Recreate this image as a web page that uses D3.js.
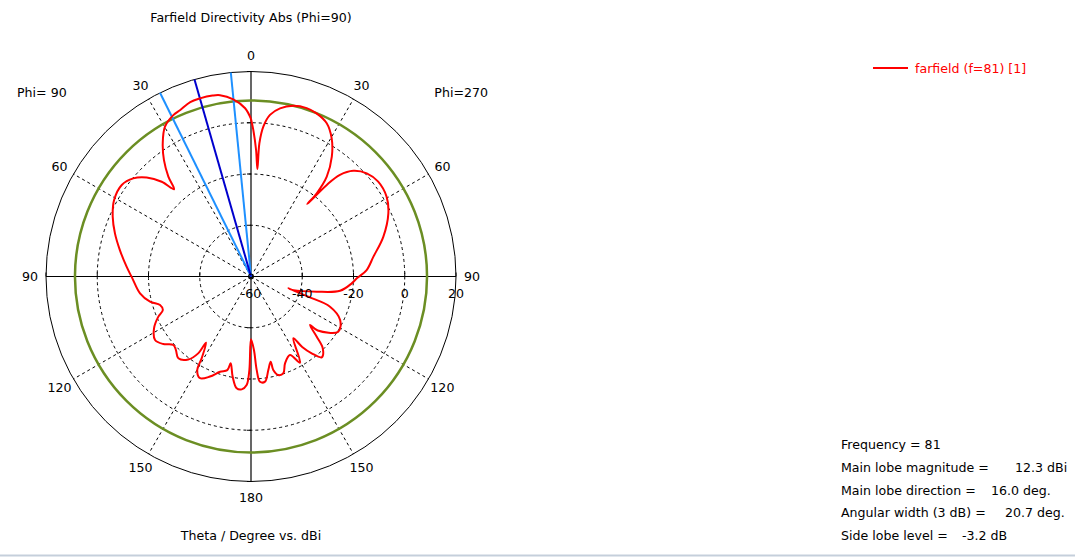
<!DOCTYPE html>
<html lang="en">
<head>
<meta charset="UTF-8">
<title>Farfield Directivity Abs</title>
<style>
    body { margin: 0; background: #fff; }
    svg text { font-family: "DejaVu Sans", Verdana, sans-serif; font-size: 12.6px; fill: #000; }
</style>
</head>
<body>
<div id="wrapper"></div>
<script src="https://d3js.org/d3.v7.min.js"></script>
<script>
    // theta in degrees, counted from the top towards the left (0..180 = Phi 90 side, 180..360 = Phi 270 side)
    const theta = [0, 2.0, 5.7, 9.7, 12, 16, 19.2, 23, 25.7, 29.9, 33.5, 36.8, 39.6, 41.4, 43.3, 46.5, 50.2, 54.7, 60.8, 66.6,
        72.4, 78.6, 85.5, 90.9, 98.6, 104, 107.4, 110.8, 113.4, 118.1, 123.5, 127.6, 131.4, 134.4, 138.4, 142.9, 145.5, 145.8,
        148.9, 150.1, 153.4, 157.7, 162, 165.8, 166.8, 169.6, 172.7, 175.3, 177.7, 179, 180, 182.3, 183.5, 184.9, 187.6, 190.5,
        193, 193.4, 195.5, 198.5, 201.4, 206.4, 209.6, 214.4, 216, 218.3, 221.2, 225, 227.5, 230.6, 231, 237.7, 244, 249.1,
        250.6, 252.4, 252.2, 257, 260.9, 266.1, 269, 273.2, 279.2, 286.7, 294.7, 300.5, 306.7, 311.7, 315.9, 318.8, 320.4,
        322.2, 321.7, 322.8, 326, 329.7, 333.7, 338.1, 341.7, 346.1, 350.2, 353.3, 355.3, 356.4, 356.6, 357.7, 359.1, 360];
    const dBi = [1.5, 5.7, 9.5, 11.8, 12.2, 12.3, 12.1, 10.6, 9.9, 7.4, 2.4, -3.3, -9.4, -14.6, -9.2, -3.9, -0.2, 1.8, 1.2, -1.2,
        -4.3, -7.8, -11.3, -13.7, -16.2, -19.4, -22.8, -23.2, -20.6, -17.1, -15.1, -16.8, -19.6, -19.0, -17.3, -19.4, -23.6, -28.8,
        -22.7, -17.9, -15.6, -17.8, -20.9, -22.3, -25.2, -20.3, -16.0, -15.8, -17.6, -23.5, -35.5, -31.3, -23.4, -18.8, -18.6, -22.9,
        -25.9, -22.5, -20.1, -20.2, -23.6, -25.8, -21.3, -30.8, -26.0, -21.8, -18.1, -20.4, -25.2, -30.2, -26.5, -19.7, -21.3, -27,
        -36.3, -44.7, -42.6, -33.7, -24.8, -20.6, -18.7, -14.8, -11.6, -6.1, -1.0, 1.4, 1.9, 0.5, -2.6, -7.3, -13.6,
        -24.2, -18.6, -11.1, -3.6, 2.4, 6.7, 8.6, 9.2, 8.6, 6.6, 3.5, -1.3, -7.9, -18.0, -10.6, -2.8, 1.5];

    const rTicks = [-60, -40, -20, 0, 20];
    const angleTicks = [0, 30, 60, 90, 120, 150, 180, 210, 240, 270, 300, 330];

    const mainLobeDir = 16.0, angularWidth = 20.7;
    const ringLevel = 8.7; // green 3 dB ring
    const infoNames = ['Frequency = 81', 'Main lobe magnitude =', 'Main lobe direction =', 'Angular width (3 dB) =', 'Side lobe level ='];
    const infoValues = ['', '12.3 dBi', '16.0 deg.', '20.7 deg.', '-3.2 dB'];
    const infoValueX = [0, 1015, 991, 1005, 962];

    const width = 1075, height = 558;
    const cx = 251, cy = 276.5, R = 205;

    const svg = d3.select('#wrapper').append('svg')
        .attr('width', width).attr('height', height);

    const r = d3.scaleLinear().domain([-60, 20]).range([0, R]);
    const rad = d => d * Math.PI / 180;
    // position for angle a (deg, towards left) and radius px
    const px = (a, rr) => cx - rr * Math.sin(rad(a));
    const py = (a, rr) => cy - rr * Math.cos(rad(a));

    const g = svg.append('g');

    // dashed rings
    g.selectAll('.ring').data(rTicks.slice(1, -1)).enter()
        .append('circle')
        .attr('cx', cx).attr('cy', cy).attr('r', d => r(d))
        .attr('fill', 'none').attr('stroke', '#000').attr('stroke-width', 1)
        .attr('stroke-dasharray', '3,3');

    // dashed spokes
    g.selectAll('.spoke').data(angleTicks.filter(a => a % 90 !== 0)).enter()
        .append('line')
        .attr('x1', cx).attr('y1', cy)
        .attr('x2', a => px(a, R)).attr('y2', a => py(a, R))
        .attr('stroke', '#000').attr('stroke-width', 1).attr('stroke-dasharray', '3,3');

    // outer ring and axes
    g.append('circle').attr('cx', cx).attr('cy', cy).attr('r', R)
        .attr('fill', 'none').attr('stroke', '#000').attr('stroke-width', 1);
    g.append('line').attr('x1', cx - R).attr('x2', cx + R).attr('y1', cy).attr('y2', cy)
        .attr('stroke', '#000').attr('stroke-width', 1.2);
    g.append('line').attr('x1', cx).attr('x2', cx).attr('y1', cy - R).attr('y2', cy + R)
        .attr('stroke', '#000').attr('stroke-width', 1.2);

    // small ticks on the axes
    const tickR = rTicks.slice(1);
    [-1, 1].forEach(s => {
        g.selectAll(null).data(tickR).enter().append('line')
            .attr('x1', d => cx + s * r(d)).attr('x2', d => cx + s * r(d))
            .attr('y1', cy - 4).attr('y2', cy)
            .attr('stroke', '#000');
        g.selectAll(null).data(tickR).enter().append('line')
            .attr('x1', cx - 4).attr('x2', cx)
            .attr('y1', d => cy + s * r(d)).attr('y2', d => cy + s * r(d))
            .attr('stroke', '#000');
    });

    // 3 dB ring
    g.append('circle').attr('cx', cx).attr('cy', cy).attr('r', r(ringLevel))
        .attr('fill', 'none').attr('stroke', '#6b8e23').attr('stroke-width', 2.5);

    // main lobe direction and 3 dB width
    const beams = [
        { a: mainLobeDir - angularWidth / 2, c: '#1e90ff' },
        { a: mainLobeDir + angularWidth / 2, c: '#1e90ff' },
        { a: mainLobeDir, c: '#0000cd' }
    ];
    g.selectAll('.beam').data(beams).enter().append('line')
        .attr('x1', cx).attr('y1', cy)
        .attr('x2', d => px(d.a, R)).attr('y2', d => py(d.a, R))
        .attr('stroke', d => d.c).attr('stroke-width', 2);

    // farfield curve
    const pts = theta.map((t, i) => [t, dBi[i]]);
    const line = d3.lineRadial()
        .angle(d => -rad(d[0]))
        .radius(d => r(d[1]))
        .curve(d3.curveCatmullRom.alpha(0.5));
    g.append('path')
        .attr('transform', `translate(${cx},${cy})`)
        .attr('d', line(pts))
        .attr('fill', 'none').attr('stroke', '#ff0000').attr('stroke-width', 2)
        .attr('stroke-linejoin', 'round');

    // center marker
    g.append('circle').attr('cx', cx).attr('cy', cy).attr('r', 2.5)
        .attr('fill', 'none').attr('stroke', '#000');

    // radial tick labels
    g.selectAll('.rlab').data(rTicks).enter().append('text')
        .attr('x', d => cx + r(d)).attr('y', cy + 21)
        .attr('text-anchor', 'middle')
        .text(d => d);

    // angle labels
    const labR = 221;
    g.selectAll('.alab').data(angleTicks).enter().append('text')
        .attr('x', a => px(a, labR)).attr('y', a => py(a, labR))
        .attr('text-anchor', 'middle').attr('dominant-baseline', 'central')
        .text(a => a <= 180 ? a : 360 - a);

    svg.append('text').attr('x', 17).attr('y', 97).text('Phi= 90');
    svg.append('text').attr('x', 488).attr('y', 97).attr('text-anchor', 'end').text('Phi=270');

    svg.append('text').attr('x', cx).attr('y', 22).attr('text-anchor', 'middle')
        .text('Farfield Directivity Abs (Phi=90)');
    svg.append('text').attr('x', cx).attr('y', 540).attr('text-anchor', 'middle')
        .text('Theta / Degree vs. dBi');

    // legend
    svg.append('line').attr('x1', 873).attr('x2', 908).attr('y1', 68).attr('y2', 68)
        .attr('stroke', '#ff0000').attr('stroke-width', 2);
    svg.append('text').attr('x', 915).attr('y', 73).style('fill', '#ff0000')
        .text('farfield (f=81) [1]');

    // info block
    const info = svg.append('g');
    infoNames.forEach((n, i) => {
        const y = 449 + i * 22.8;
        info.append('text').attr('x', 841).attr('y', y).text(n);
        if (infoValues[i]) info.append('text').attr('x', infoValueX[i]).attr('y', y).text(infoValues[i]);
    });

    svg.append('line').attr('x1', 0).attr('x2', width).attr('y1', 555.5).attr('y2', 555.5)
        .attr('stroke', '#c5cfdb').attr('stroke-width', 2);
</script>
</body>
</html>
